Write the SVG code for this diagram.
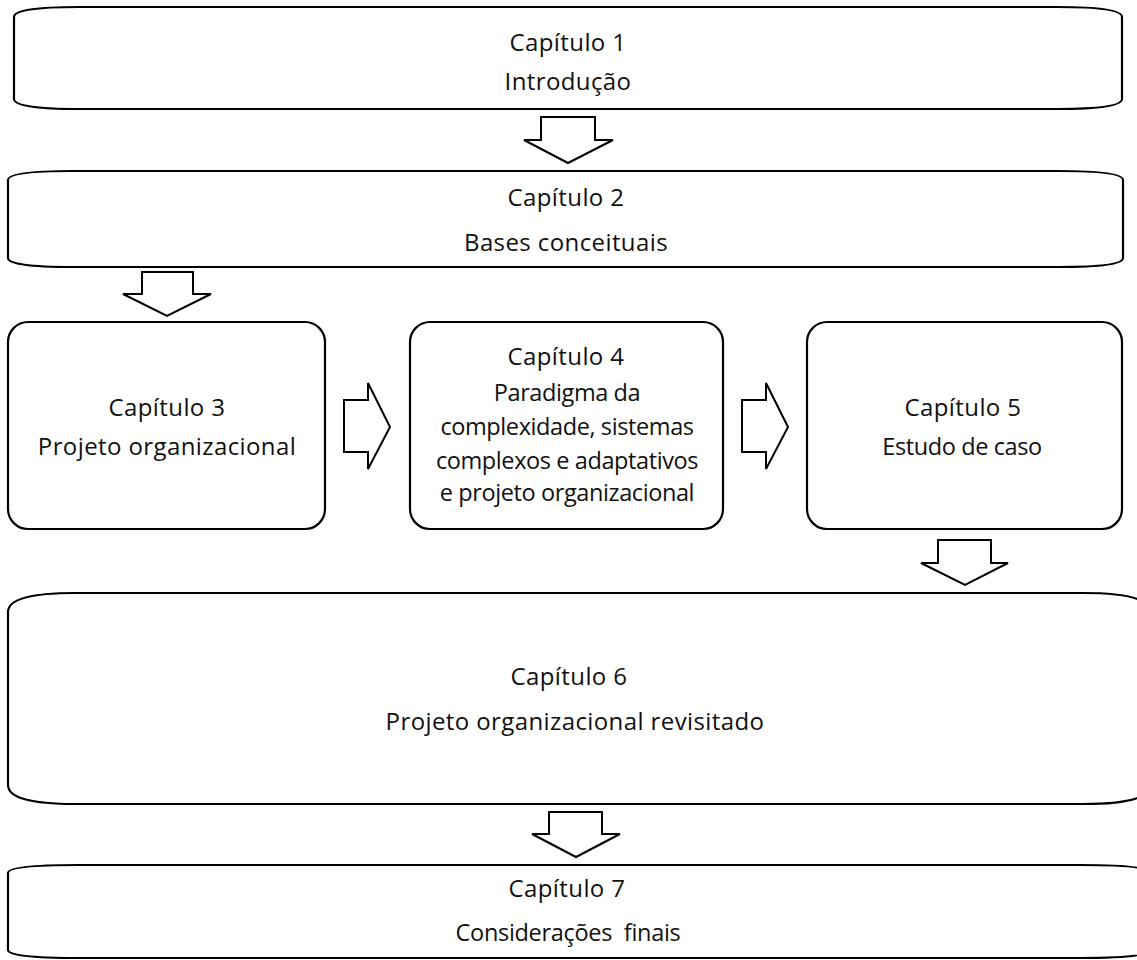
<svg xmlns="http://www.w3.org/2000/svg" width="1137" height="960" viewBox="0 0 1137 960">
<style>
.box{fill:#fff;stroke:#000;stroke-width:2.2}
.arr{fill:#fff;stroke:#000;stroke-width:2;stroke-linejoin:miter}
text{font-family:"Open Sans","DejaVu Sans",sans-serif;font-size:24px;letter-spacing:0.4px;fill:#111;text-anchor:middle}
text.s{font-size:23.5px;letter-spacing:-0.4px}
</style>
<rect width="1137" height="960" fill="#fff"/>
<g id="connectors">
<polygon class="arr" points="541,117 595,117 595,140 613,140 568,163 524,140 541,140"/>
<polygon class="arr" points="142,272 193,272 193,294 211,294 167,316 123,294 142,294"/>
<polygon class="arr" points="344,400 368,400 368,383 390,427 368,469 368,452 344,452"/>
<polygon class="arr" points="742,400 766,400 766,383 788,427 766,469 766,452 742,452"/>
<polygon class="arr" points="938,540 991,540 991,563 1008,563 965,585 921,563 938,563"/>
<polygon class="arr" points="549,812 602,812 602,834 620,834 576,857 532,834 549,834"/>
</g>
<g id="cap1">
<path class="box" d="M79,7 H1057 Q1122,7 1122,17 V99 Q1122,109 1057,109 H79 Q14,109 14,99 V17 Q14,7 79,7 Z"/>
<text x="568" y="51">Capítulo 1</text>
<text x="568" y="90">Introdução</text>
</g>
<g id="cap2">
<path class="box" d="M73,171 H1058 Q1123,171 1123,180 V258 Q1123,267 1058,267 H73 Q8,267 8,258 V180 Q8,171 73,171 Z"/>
<text x="566" y="206">Capítulo 2</text>
<text x="566" y="251">Bases conceituais</text>
</g>
<g id="cap3">
<rect class="box" x="8" y="322" width="317" height="207" rx="20"/>
<text x="167" y="416">Capítulo 3</text>
<text x="167" y="455">Projeto organizacional</text>
</g>
<g id="cap4">
<rect class="box" x="410" y="322" width="313" height="207" rx="20"/>
<text x="566" y="365">Capítulo 4</text>
<text class="s" x="567" y="401">Paradigma da</text>
<text class="s" x="567" y="435">complexidade, sistemas</text>
<text class="s" x="567" y="469">complexos e adaptativos</text>
<text class="s" x="567" y="501">e projeto organizacional</text>
</g>
<g id="cap5">
<rect class="box" x="807" y="322" width="315" height="207" rx="20"/>
<text x="963" y="416">Capítulo 5</text>
<text class="s" x="962" y="455">Estudo de caso</text>
</g>
<g id="cap6">
<path class="box" d="M75,593 H1083 Q1150,593 1150,612 V785 Q1150,804 1083,804 H75 Q8,804 8,785 V612 Q8,593 75,593 Z"/>
<text x="569" y="685">Capítulo 6</text>
<text x="575" y="730">Projeto organizacional revisitado</text>
</g>
<g id="cap7">
<path class="box" d="M78,865 H1080 Q1150,865 1150,873 V950 Q1150,958 1080,958 H78 Q8,958 8,950 V873 Q8,865 78,865 Z"/>
<text x="567" y="897">Capítulo 7</text>
<text class="s" x="568" y="941" xml:space="preserve" style="letter-spacing:-0.3px">Considerações  finais</text>
</g>
</svg>
